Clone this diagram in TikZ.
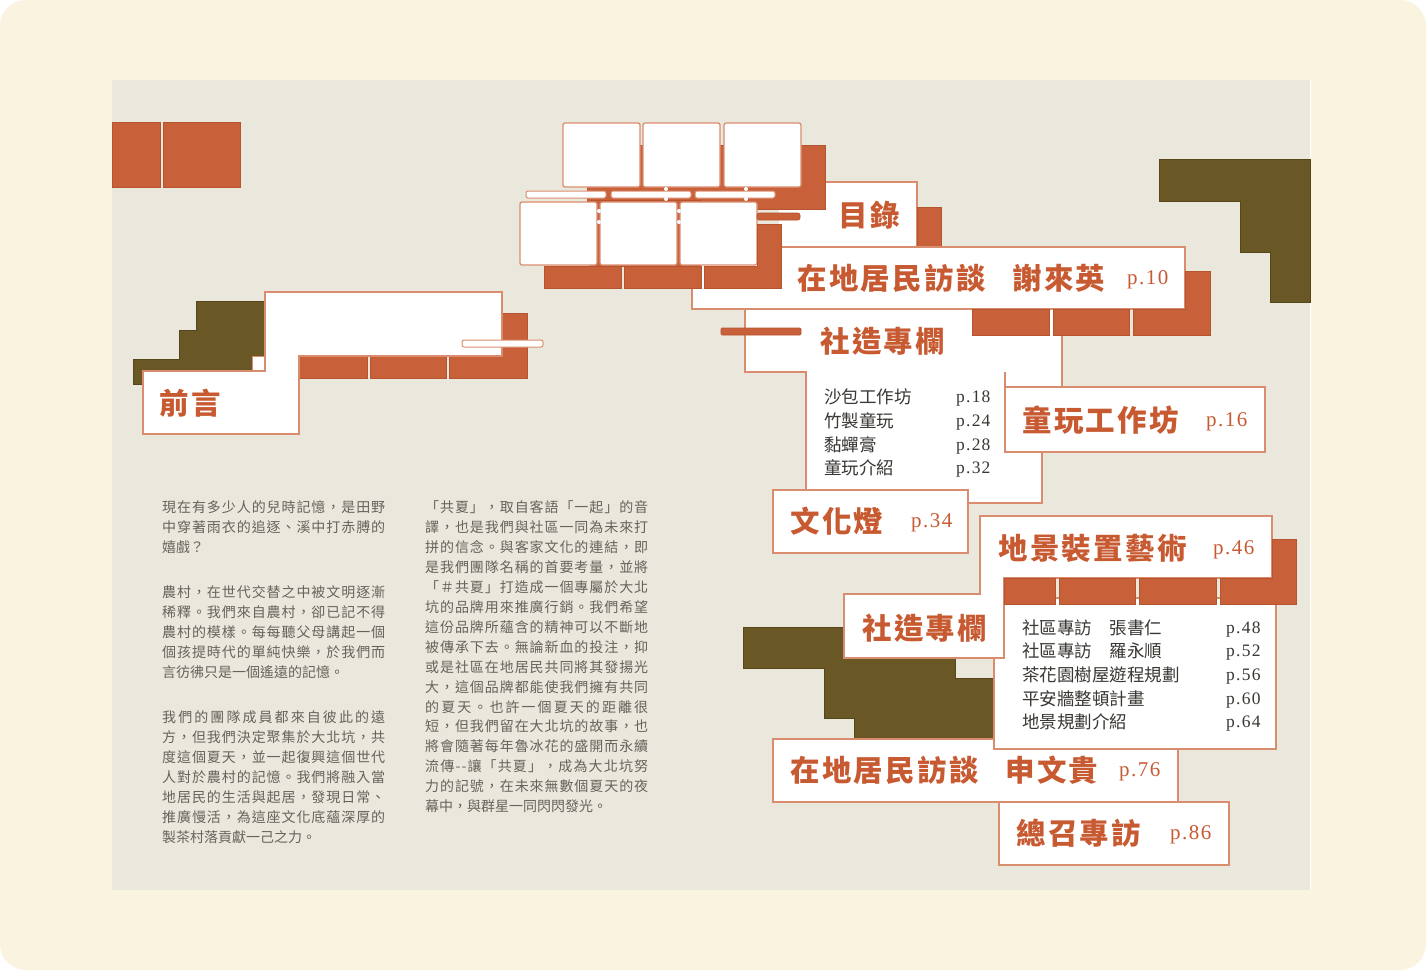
\documentclass[tikz,border=0pt]{standalone}
\usepackage{fontspec}
\newfontfamily\cjk{Noto Sans CJK TC}
\newfontfamily\cjkt[LetterSpace=8]{Noto Sans CJK TC}
\newfontfamily\numfont[LetterSpace=7]{Liberation Serif}
\definecolor{outerbg}{HTML}{FAF3E0}
\definecolor{pagebg}{HTML}{EAE8DC}
\definecolor{rust}{HTML}{C8603A}
\definecolor{rustdk}{HTML}{B65430}
\definecolor{olive}{HTML}{695726}
\definecolor{olivedk}{HTML}{564619}
\definecolor{edge}{HTML}{DA8D6E}
\definecolor{bodytxt}{HTML}{66625C}
\definecolor{listtxt}{HTML}{3A3733}
\definecolor{titletxt}{HTML}{C85A32}
\def\spreadstop{\spreadstop}
\def\spreadaux#1{\ifx#1\spreadstop\unskip\else#1\hfil\expandafter\spreadaux\fi}
\def\spreadtext#1{\hbox to 223pt{\spreadaux#1\spreadstop}}
\tikzset{
  wbox/.style={fill=white, draw=edge, line width=1.3pt},
  thinbar/.style={fill=white, draw=edge, line width=1pt, rounded corners=2pt},
  oblk/.style={fill=rust, draw=rustdk, line width=0.6pt},
  oliv/.style={fill=olive, draw=olivedk, line width=0.6pt},
  title/.style={font=\cjkt\bfseries\fontsize{29.5}{30}\selectfont, text=titletxt, anchor=west, inner sep=0pt},
  pnum/.style={font=\numfont\fontsize{21}{21}\selectfont, text=titletxt, anchor=west, inner sep=0pt},
  litem/.style={font=\cjk\fontsize{17.5}{18}\selectfont, text=listtxt, anchor=west, inner sep=0pt},
  lnum/.style={font=\numfont\fontsize{17.5}{18}\selectfont, text=listtxt, anchor=west, inner sep=0pt},
  body/.style={font=\cjk\fontsize{14}{20}\selectfont, text=bodytxt, anchor=base west, inner sep=0pt},
}
\newcommand\bodyJ[3]{\node[body] (#1) at (#2) {\spreadtext{#3}};}
\newcommand\bodyP[3]{\node[body] (#1) at (#2) {#3};}
\begin{document}
\begin{tikzpicture}[x=1pt,y=-1pt]
\useasboundingbox (0,0) rectangle (1426,970);
% backgrounds
\fill[white] (0,0) rectangle (1426,970);
\fill[outerbg, rounded corners=26pt] (0,0) rectangle (1426,970);
\fill[pagebg] (112,80) rectangle (1310,890);
\draw[white, line width=1pt] (1310,80) -- (1310,890);

% top-left orange blocks
\draw[oblk] (112,122) rectangle (160,187);
\draw[oblk] (163,122) rectangle (240,187);

% ---- 前言 group
\draw[oliv] (133,359) -- (179,359) -- (179,330) -- (196,330) -- (196,301) -- (265,301) -- (265,384) -- (133,384) -- cycle;
\draw[oblk] (299,356) rectangle (367,378);
\draw[oblk] (370,356) rectangle (446,378);
\draw[oblk] (449,356) -- (502,356) -- (502,313) -- (527,313) -- (527,378) -- (449,378) -- cycle;
\draw[fill=white, draw=edge, line width=0.8pt] (252,356) rectangle (265,371);
\draw[wbox] (265,292) -- (502,292) -- (502,356) -- (299,356) -- (299,434) -- (143,434) -- (143,371) -- (265,371) -- cycle;
\draw[thinbar] (462,340) rectangle (543,347);
\node[title] (qy) at (159,403) {前言};

% ---- top-right olive
\draw[oliv] (1159,159) -- (1310,159) -- (1310,302) -- (1270,302) -- (1270,252) -- (1240,252) -- (1240,201) -- (1159,201) -- cycle;

% ---- 目錄 box
\fill[white] (779,182) rectangle (917,247);
\draw[edge, line width=1.3pt] (779,182) -- (917,182) -- (917,247);
\draw[oblk] (917,207) rectangle (941,247);

% ---- 社造專欄 (upper) with list
\draw[wbox] (745,309) -- (1062,309) -- (1062,400) -- (1042,400) -- (1042,503) -- (806,503) -- (806,372) -- (745,372) -- cycle;
\draw[edge, line width=1.3pt] (1005,372) -- (1005,387);

% ---- 在地居民訪談 謝來英
\draw[wbox] (692,247) rectangle (1185,309);
\draw[oblk] (972,309) rectangle (1049,335);
\draw[oblk] (1053,309) rectangle (1129,335);
\draw[oblk] (1133,309) -- (1185,309) -- (1185,271) -- (1210,271) -- (1210,335) -- (1133,335) -- cycle;

% ---- 童玩工作坊
\draw[wbox] (1005,387) rectangle (1265,452);

% ---- top window group
\draw[oblk] (587,145) rectangle (825,209);
\draw[oblk] (590,200) rectangle (700,266);
\draw[wbox, rounded corners=2pt] (563,123) rectangle (640,187);
\draw[wbox, rounded corners=2pt] (643,123) rectangle (720,187);
\draw[wbox, rounded corners=2pt] (724,123) rectangle (801,187);
\draw[thinbar] (526,191) rectangle (606,198);
\draw[thinbar] (611,191) rectangle (691,198);
\draw[thinbar] (695,191) rectangle (775,198);
\draw[wbox, rounded corners=2pt] (520,202) rectangle (597,265);
\draw[wbox, rounded corners=2pt] (600,202) rectangle (677,265);
\draw[wbox, rounded corners=2pt] (680,202) rectangle (757,265);
\draw[oblk, rounded corners=2pt] (757,213) rectangle (800,220);
\draw[oblk] (544,266) rectangle (621,288);
\draw[oblk] (624,266) rectangle (701,288);
\draw[oblk] (704,266) -- (757,266) -- (757,224) -- (781,224) -- (781,288) -- (704,288) -- cycle;
\foreach \px/\py in {666/189, 666/199, 746/189, 746/199, 599/211, 599/222, 679/211, 679/222}
  \fill[white] (\px,\py) circle (2pt);

% orange bar left of 社造專欄
\draw[oblk, rounded corners=1pt] (721,328) rectangle (801,335);

% ---- 文化燈
\draw[wbox] (773,490) rectangle (968,553);

% ---- lower group
\draw[oliv] (743,627) -- (955,627) -- (955,678) -- (994,678) -- (994,739) -- (854,739) -- (854,718) -- (824,718) -- (824,668) -- (743,668) -- cycle;
\draw[wbox] (773,739) rectangle (1178,802);
\draw[wbox] (994,598) rectangle (1276,749);
\draw[wbox] (844,594) -- (980,594) -- (980,516) -- (1272,516) -- (1272,578) -- (1004,578) -- (1004,658) -- (844,658) -- cycle;
\draw[oblk] (1004,578) rectangle (1055,604);
\draw[oblk] (1059,578) rectangle (1135,604);
\draw[oblk] (1139,578) rectangle (1216,604);
\draw[oblk] (1220,578) -- (1272,578) -- (1272,539) -- (1296,539) -- (1296,604) -- (1220,604) -- cycle;
\draw[wbox] (999,802) rectangle (1229,865);

% ---- titles
\node[title] (t1) at (838,215) {目錄};
\node[title] (t2a) at (797,278) {在地居民訪談};
\node[title] (t2b) at (1012,278) {謝來英};
\node[pnum] (t2p) at (1127,280) {p.10};
\node[title] (t3) at (820,341) {社造專欄};
\node[title] (t4) at (1022,420) {童玩工作坊};
\node[pnum] (t4p) at (1206,422) {p.16};
\node[title] (t5) at (790,521) {文化燈};
\node[pnum] (t5p) at (911,523) {p.34};
\node[title] (t6) at (998,548) {地景裝置藝術};
\node[pnum] (t6p) at (1213,550) {p.46};
\node[title] (t7) at (862,628) {社造專欄};
\node[title] (t8a) at (790,770) {在地居民訪談};
\node[title] (t8b) at (1005,770) {申文貴};
\node[pnum] (t8p) at (1119,772) {p.76};
\node[title] (t9) at (1016,833) {總召專訪};
\node[pnum] (t9p) at (1170,835) {p.86};

% ---- list 1
\node[litem] (a1) at (824,397) {沙包工作坊};
\node[litem] (a2) at (824,421) {竹製童玩};
\node[litem] (a3) at (824,445) {黏蟬膏};
\node[litem] (a4) at (824,468) {童玩介紹};
\node[lnum] (a1p) at (956,399) {p.18};
\node[lnum] (a2p) at (956,423) {p.24};
\node[lnum] (a3p) at (956,447) {p.28};
\node[lnum] (a4p) at (956,470) {p.32};

% ---- list 2
\node[litem] (b1) at (1022,628) {社區專訪　張書仁};
\node[litem] (b2) at (1022,651) {社區專訪　羅永順};
\node[litem] (b3) at (1022,675) {茶花園樹屋遊程規劃};
\node[litem] (b4) at (1022,699) {平安牆整頓計畫};
\node[litem] (b5) at (1022,722) {地景規劃介紹};
\node[lnum] (b1p) at (1226,630) {p.48};
\node[lnum] (b2p) at (1226,653) {p.52};
\node[lnum] (b3p) at (1226,677) {p.56};
\node[lnum] (b4p) at (1226,701) {p.60};
\node[lnum] (b5p) at (1226,724) {p.64};

% ---- body text left column
\bodyJ{la1}{162,512}{現在有多少人的兒時記憶，是田野}
\bodyJ{la2}{162,532}{中穿著雨衣的追逐、溪中打赤膊的}
\bodyP{la3}{162,552}{嬉戲？}
\bodyJ{lb1}{162,597}{農村，在世代交替之中被文明逐漸}
\bodyJ{lb2}{162,617}{稀釋。我們來自農村，卻已記不得}
\bodyJ{lb3}{162,637}{農村的模樣。每每聽父母講起一個}
\bodyJ{lb4}{162,657}{個孩提時代的單純快樂，於我們而}
\bodyP{lb5}{162,677}{言彷彿只是一個遙遠的記憶。}
\bodyJ{lc1}{162,722}{我們的團隊成員都來自彼此的遠}
\bodyJ{lc2}{162,742}{方，但我們決定聚集於大北坑，共}
\bodyJ{lc3}{162,762}{度這個夏天，並一起復興這個世代}
\bodyJ{lc4}{162,782}{人對於農村的記憶。我們將融入當}
\bodyJ{lc5}{162,802}{地居民的生活與起居，發現日常、}
\bodyJ{lc6}{162,822}{推廣慢活，為這座文化底蘊深厚的}
\bodyP{lc7}{162,842}{製茶村落貢獻一己之力。}

% ---- body text right column
\bodyJ{r1}{425,512}{「共夏」，取自客語「一起」的音}
\bodyJ{r2}{425,532}{譯，也是我們與社區一同為未來打}
\bodyJ{r3}{425,552}{拼的信念。與客家文化的連結，即}
\bodyJ{r4}{425,572}{是我們團隊名稱的首要考量，並將}
\bodyJ{r5}{425,592}{「＃共夏」打造成一個專屬於大北}
\bodyJ{r6}{425,612}{坑的品牌用來推廣行銷。我們希望}
\bodyJ{r7}{425,632}{這份品牌所蘊含的精神可以不斷地}
\bodyJ{r8}{425,652}{被傳承下去。無論新血的投注，抑}
\bodyJ{r9}{425,672}{或是社區在地居民共同將其發揚光}
\bodyJ{r10}{425,692}{大，這個品牌都能使我們擁有共同}
\bodyJ{r11}{425,712}{的夏天。也許一個夏天的距離很}
\bodyJ{r12}{425,731}{短，但我們留在大北坑的故事，也}
\bodyJ{r13}{425,751}{將會隨著每年魯冰花的盛開而永續}
\bodyJ{r14}{425,771}{流傳--讓「共夏」，成為大北坑努}
\bodyJ{r15}{425,791}{力的記號，在未來無數個夏天的夜}
\bodyP{r16}{425,811}{幕中，與群星一同閃閃發光。}
\end{tikzpicture}
\end{document}
